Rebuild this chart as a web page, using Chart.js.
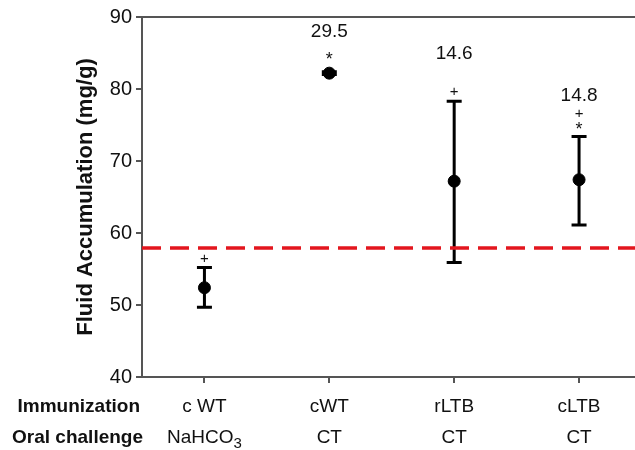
<!DOCTYPE html>
<html>
<head>
<meta charset="utf-8">
<script src="https://cdn.jsdelivr.net/npm/chart.js@4.4.1/dist/chart.umd.min.js"></script>
<style>
  html, body { margin: 0; padding: 0; background: #fff; }
  #wrap { width: 635px; height: 450px; }
</style>
</head>
<body>
<div id="wrap"><canvas id="chart" width="635" height="450"></canvas></div>
<script>
// groups on the x axis
const groups = ["c WT", "cWT", "rLTB", "cLTB"];
const challenge = ["NaHCO_3", "CT", "CT", "CT"];

// fluid accumulation (mg/g): mean and error bar ends
const meanFA = [52.4, 82.2, 67.2, 67.4];
const errHigh = [55.2, 82.4, 78.3, 73.4];
const errLow = [49.7, 82.0, 55.9, 61.1];

// annotations above each group
const foldLabels = ["", "29.5", "14.6", "14.8"];
const sigMarks = [["+"], ["*"], ["+"], ["*", "+"]]; // bottom -> top

const cutoff = 57.9;
const yTicks = [40, 50, 60, 70, 80, 90];

const FONT = "'Liberation Sans', Arial, sans-serif";
const foldGap = [0, 23, 37, 17];   // px between top mark and fold label

/* ================= PLUGINS ================= */
const errorBars = {
  id: "errorBars",
  beforeDatasetsDraw(chart) {
    const { ctx, scales: { x, y } } = chart;
    ctx.save();
    ctx.strokeStyle = "#000";
    ctx.lineWidth = 3;
    groups.forEach((g, i) => {
      const px = x.getPixelForValue(i);
      const top = y.getPixelForValue(errHigh[i]);
      const bot = y.getPixelForValue(errLow[i]);
      ctx.beginPath();
      ctx.moveTo(px, top); ctx.lineTo(px, bot);
      ctx.moveTo(px - 7.5, top); ctx.lineTo(px + 7.5, top);
      ctx.moveTo(px - 7.5, bot); ctx.lineTo(px + 7.5, bot);
      ctx.stroke();
    });
    ctx.restore();
  }
};

function drawMark(ctx, s, cx, cy) {
  if (s === "*") {
    ctx.font = "18px " + FONT;
    ctx.fillText(s, cx, cy + 0.57 * 18);
  } else {
    ctx.font = "15px " + FONT;
    ctx.fillText(s, cx, cy + 0.35 * 15);
  }
}

const extraText = {
  id: "extraText",
  afterDraw(chart) {
    const { ctx, chartArea, scales: { x, y } } = chart;
    ctx.save();

    // top frame line
    ctx.strokeStyle = "#555";
    ctx.lineWidth = 2;
    ctx.beginPath();
    ctx.moveTo(chartArea.left, chartArea.top);
    ctx.lineTo(chartArea.right, chartArea.top);
    ctx.stroke();

    ctx.fillStyle = "#111";
    ctx.textBaseline = "middle";

    // row headers
    ctx.textAlign = "right";
    ctx.font = "bold 19px " + FONT;
    ctx.fillText("Immunization", 140, 407);
    ctx.fillText("Oral challenge", 143, 438);

    // category labels
    ctx.textAlign = "center";
    groups.forEach((g, i) => {
      const px = x.getPixelForValue(i);
      ctx.font = "19px " + FONT;
      ctx.fillText(g, px, 407);
      const parts = challenge[i].split("_");
      if (parts.length > 1) {
        const w1 = ctx.measureText(parts[0]).width;
        ctx.font = "15px " + FONT;
        const w2 = ctx.measureText(parts[1]).width;
        const start = px - (w1 + w2) / 2;
        ctx.textAlign = "left";
        ctx.font = "19px " + FONT;
        ctx.fillText(parts[0], start, 438);
        ctx.font = "15px " + FONT;
        ctx.fillText(parts[1], start + w1, 444);
        ctx.textAlign = "center";
      } else {
        ctx.fillText(parts[0], px, 438);
      }
    });

    // significance marks and fold labels
    ctx.textBaseline = "alphabetic";
    groups.forEach((g, i) => {
      const px = x.getPixelForValue(i);
      let top = Math.min(y.getPixelForValue(errHigh[i]), y.getPixelForValue(meanFA[i]) - 6);
      let cy = top;
      sigMarks[i].forEach((s, k) => {
        cy = k === 0 ? top - (s === "*" ? 12 : 10) : cy - 12;
        drawMark(ctx, s, px, cy);
      });
      if (foldLabels[i]) {
        ctx.font = "19px " + FONT;
        ctx.textBaseline = "middle";
        ctx.fillText(foldLabels[i], px, cy - foldGap[i]);
        ctx.textBaseline = "alphabetic";
      }
    });
    ctx.restore();
  }
};

/* ================= CHART ================= */
const ctx = document.getElementById("chart").getContext("2d");
new Chart(ctx, {
  type: "scatter",
  data: {
    datasets: [
      {
        label: "Fluid accumulation",
        data: meanFA.map((v, i) => ({ x: i, y: v })),
        backgroundColor: "#000",
        borderColor: "#000",
        pointRadius: 6,
        pointHoverRadius: 6,
        order: 1
      },
      {
        type: "line",
        label: "cutoff",
        data: [{ x: -0.5, y: cutoff }, { x: 3.448, y: cutoff }],
        borderColor: "#e3161e",
        borderWidth: 3.5,
        borderDash: [19, 9],
        pointRadius: 0,
        fill: false,
        order: 2
      }
    ]
  },
  options: {
    responsive: false,
    animation: false,
    layout: { autoPadding: false, padding: { top: 17, right: 0, left: 0, bottom: 0 } },
    plugins: { legend: { display: false }, tooltip: { enabled: false } },
    scales: {
      x: {
        type: "linear",
        min: -0.5,
        max: 3.448,
        afterBuildTicks: s => { s.ticks = groups.map((g, i) => ({ value: i })); },
        afterFit: s => { s.height = 73; },
        ticks: { display: false },
        grid: { drawOnChartArea: false, drawTicks: true, tickLength: 6, color: "#555", lineWidth: 2 },
        border: { display: true, color: "#555", width: 2 }
      },
      y: {
        min: 40,
        max: 90,
        afterBuildTicks: s => { s.ticks = yTicks.map(v => ({ value: v })); },
        afterFit: s => { s.width = 142; },
        ticks: { color: "#111", padding: 4, font: { family: FONT, size: 20 } },
        grid: { drawOnChartArea: false, drawTicks: true, tickLength: 6, color: "#555", lineWidth: 2 },
        border: { display: true, color: "#555", width: 2 },
        title: {
          display: true,
          text: "Fluid Accumulation (mg/g)",
          color: "#111",
          font: { family: FONT, size: 22, weight: "bold" },
          padding: { top: 73, bottom: 0 }
        }
      }
    }
  },
  plugins: [errorBars, extraText]
});
</script>
</body>
</html>
